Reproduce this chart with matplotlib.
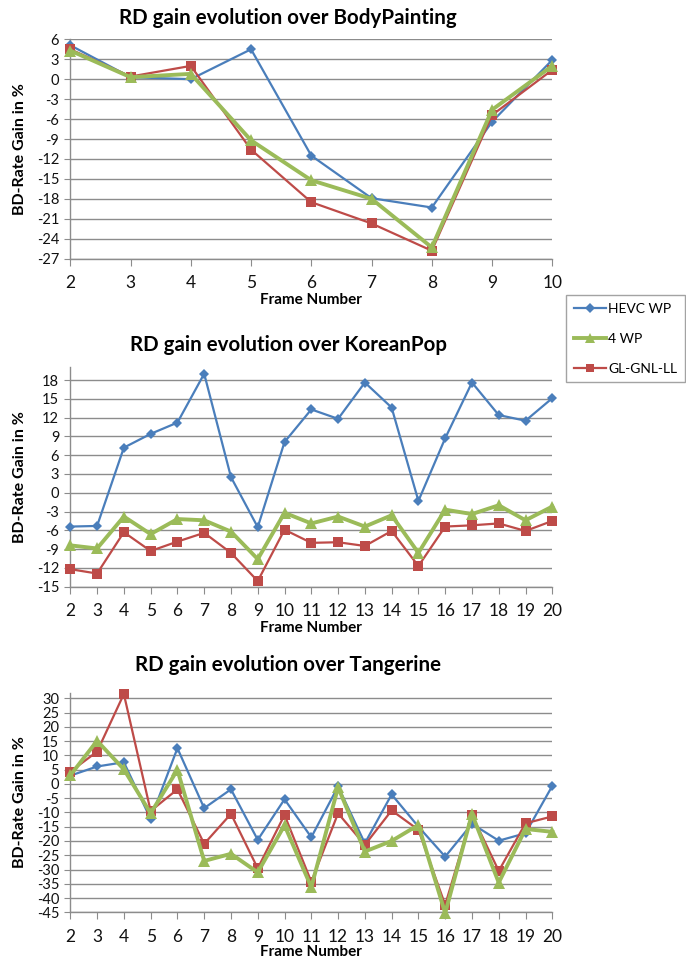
import matplotlib
matplotlib.use("Agg")
import matplotlib.pyplot as plt
from matplotlib.lines import Line2D

plt.rcParams['font.family'] = ['Lato', 'DejaVu Sans']

# ---- data ----
series_names = ["HEVC WP", "4 WP", "GL-GNL-LL"]

bp_frames = list(range(2, 11))
bp_hevc = [5.1, 0.3, 0.0, 4.5, -11.5, -17.9, -19.3, -6.4, 2.9]
bp_4wp = [4.3, 0.3, 0.8, -9.2, -15.2, -18.0, -25.3, -4.6, 2.0]
bp_gl = [4.5, 0.4, 2.0, -10.6, -18.5, -21.7, -25.8, -5.4, 1.4]

kp_frames = list(range(2, 21))
kp_hevc = [-5.4, -5.3, 7.2, 9.4, 11.2, 19.0, 2.5, -5.5, 8.1, 13.3, 11.8,
           17.6, 13.6, -1.3, 8.7, 17.6, 12.4, 11.5, 15.1]
kp_4wp = [-8.4, -8.9, -3.8, -6.6, -4.2, -4.4, -6.2, -10.6, -3.2, -4.9, -3.8,
          -5.4, -3.6, -9.6, -2.7, -3.4, -2.0, -4.4, -2.2]
kp_gl = [-12.2, -12.9, -6.3, -9.3, -7.8, -6.4, -9.6, -14.1, -5.9, -8.0, -7.9,
         -8.5, -6.1, -11.7, -5.4, -5.2, -4.9, -6.1, -4.5]

tg_frames = list(range(2, 21))
tg_hevc = [2.9, 6.1, 7.6, -12.3, 12.5, -8.5, -1.9, -19.6, -5.4, -18.7, -0.9,
           -20.8, -3.7, -15.0, -25.5, -14.0, -19.9, -17.3, -0.7]
tg_4wp = [3.0, 15.1, 5.1, -10.3, 4.9, -27.0, -24.5, -31.0, -14.5, -36.2, -1.2,
          -23.7, -20.0, -14.4, -45.3, -10.5, -34.6, -15.8, -16.8]
tg_gl = [4.3, 11.3, 31.5, -9.5, -1.9, -21.0, -10.5, -29.6, -10.9, -34.3, -10.3,
         -21.4, -9.3, -16.1, -42.4, -10.9, -30.5, -13.8, -11.4]

titles = ["RD gain evolution over BodyPainting",
          "RD gain evolution over KoreanPop",
          "RD gain evolution over Tangerine"]

# ---- styling ----
W, H = 686, 960
fig = plt.figure(figsize=(W / 100, H / 100), dpi=100)

colors = ["#4A7EBB", "#9BBB59", "#BE4B48"]
markers = ["D", "^", "s"]
msizes = [5.5, 8, 7]
lws = [1.6, 2.8, 1.6]
grid_c = "#8C8C8C"

def px_axes(x0, x1, ytop, ybot):
    return fig.add_axes([x0 / W, 1 - ybot / H, (x1 - x0) / W, (ybot - ytop) / H])

panels = [
    (bp_frames, [bp_hevc, bp_4wp, bp_gl], (-27, 6), list(range(-27, 7, 3)), 258.7, 18, 300),
    (kp_frames, [kp_hevc, kp_4wp, kp_gl], (-15, 20), list(range(-15, 19, 3)), 586.7, 345, 628),
    (tg_frames, [tg_hevc, tg_4wp, tg_gl], (-45, 32), list(range(-45, 31, 5)), 912.3, 665, 952),
]

tops = [39.3]
s2 = (586.7 - 380.0) / 33.0
tops.append(586.7 - s2 * 35.0)
s3 = (912.3 - 698.3) / 75.0
tops.append(912.3 - s3 * 77.0)

for i, (frames, data, ylim, yticks, ybot, ty, xly) in enumerate(panels):
    ax = px_axes(70.3, 552.3, tops[i], ybot)
    for j, vals in enumerate(data):
        ax.plot(frames, vals, color=colors[j], marker=markers[j], markersize=msizes[j],
                linewidth=lws[j], markeredgewidth=0, zorder=3 + (1 if j == 1 else 0),
                label=series_names[j], clip_on=False)
    ax.set_xlim(frames[0], frames[-1])
    ax.set_ylim(*ylim)
    ax.set_xticks(frames)
    ax.set_xticklabels([str(f) for f in frames])
    ax.set_yticks(yticks)
    ax.set_yticklabels([str(t) for t in yticks])
    ax.grid(axis="y", color=grid_c, linewidth=1.0)
    ax.set_axisbelow(True)
    for side in ["top", "right"]:
        ax.spines[side].set_visible(False)
    for side in ["left", "bottom"]:
        ax.spines[side].set_color(grid_c)
        ax.spines[side].set_linewidth(1.0)
    ax.tick_params(axis="x", direction="out", length=5, color=grid_c, labelsize=12.5,
                   pad=7, labelcolor="#111111")
    ax.tick_params(axis="y", direction="out", length=4, color=grid_c, labelsize=10.5,
                   pad=4, labelcolor="#111111")
    ax.set_ylabel("BD-Rate Gain in %", fontsize=11.5, fontweight="bold")
    ax.yaxis.set_label_coords(-43 / 482.0, 0.5)
    fig.text(311 / W, 1 - xly / H, "Frame Number", ha="center", va="center",
             fontsize=11, fontweight="bold")
    fig.text(288 / W, 1 - ty / H, titles[i], ha="center", va="center",
             fontsize=14.8, fontweight="bold")

# legend
handles = [Line2D([0], [0], color=colors[j], marker=markers[j], markersize=msizes[j] * 0.9,
                  linewidth=lws[j], markeredgewidth=0) for j in range(3)]
leg = fig.legend(handles, series_names, loc="upper left",
                 bbox_to_anchor=(566 / W, 1 - 295 / H), frameon=True, fancybox=False,
                 fontsize=10, handlelength=2.3, handletextpad=0.2, labelspacing=1.3,
                 borderpad=0.55, borderaxespad=0)
leg.get_frame().set_edgecolor("#8C8C8C")
leg.get_frame().set_linewidth(1.0)

fig.savefig("out.png", dpi=100)
